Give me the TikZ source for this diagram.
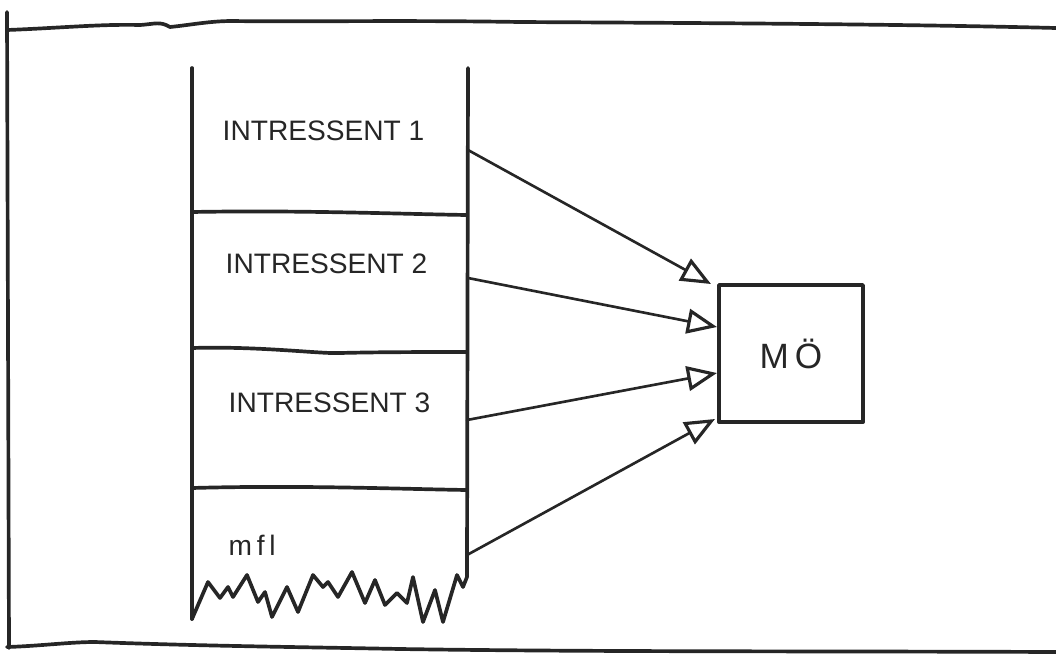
\documentclass[tikz,border=0pt]{standalone}
\usepackage{fontspec}
\setmainfont{Liberation Sans}
\usetikzlibrary{arrows.meta}
\tikzset{
  ink/.style={line width=1.05pt, line join=round, line cap=round, draw=black!85},
  thinink/.style={line width=0.75pt, line join=round, line cap=round, draw=black!85},
  lbl/.style={anchor=west, inner sep=0pt, font=\fontsize{8}{9.6}\selectfont, text=black!85},
  arr/.style={thinink, -{Triangle[open, length=8.5pt, width=7pt, line width=0.9pt]}},
  mobox/.style={ink, minimum width=1.44cm, minimum height=1.37cm, inner sep=0pt,
    font=\fontsize{10}{12}\selectfont, text=black!85}
}
\begin{document}
\begin{tikzpicture}[x=0.01cm, y=-0.01cm]
\useasboundingbox (0,0) rectangle (1056,654);
% outer frame
\draw[ink] (7,12) -- (9,648);
\draw[ink] (7,30) .. controls (60,28) and (100,24) .. (140,25)
  .. controls (155,24) and (160,21) .. (170,27)
  .. controls (190,25) and (210,21) .. (232,21)
  .. controls (300,22) and (400,20) .. (520,22)
  .. controls (700,23) and (900,24) .. (1056,28);
\draw[ink] (7,647) .. controls (40,646) and (70,642) .. (95,642)
  .. controls (200,646) and (300,647) .. (400,649)
  .. controls (600,652) and (800,651) .. (1056,652);
% column
\draw[ink] (192,68) -- (192,619);
\draw[ink] (468,68) -- (467,577);
\draw[ink] (192,212) .. controls (300,210) and (400,214) .. (467,215);
\draw[ink] (192,348) .. controls (260,346) and (320,354) .. (340,353) .. controls (380,352) and (430,352) .. (467,352);
\draw[ink] (192,488) .. controls (300,485) and (400,489) .. (467,490);
% torn bottom
\draw[ink] (192,619) -- (208,582) -- (220,598) -- (228,587) -- (233,597) -- (247,575)
  -- (258,602) -- (265,592) -- (272,617) -- (287,587) -- (298,612) -- (313,575)
  -- (323,587) -- (328,582) -- (338,597) -- (352,572) -- (365,603) -- (375,580)
  -- (385,605) -- (397,593) -- (407,603) -- (413,577) -- (423,622) -- (435,590)
  -- (443,622) -- (457,575) -- (463,587) -- (467,577);
% labels
\node[lbl] (i1) at (222,131) {INTRESSENT 1};
\node[lbl] (i2) at (225,264) {INTRESSENT 2};
\node[lbl] (i3) at (228,403) {INTRESSENT 3};
\node[lbl] (mfl) at (228,545) {m\,f\,l};
% MÖ box
\node[mobox, draw] (mo) at (791,353.5) {M\,Ö};
% arrow endpoints
\coordinate (s1) at (468,150);
\coordinate (s2) at (468,278);
\coordinate (s3) at (467,420);
\coordinate (s4) at (467,555);
\coordinate (e1) at (711,284);
\coordinate (e2) at (717,327);
\coordinate (e3) at (717,373);
\coordinate (e4) at (715,419);
\draw[arr] (s1) -- (e1);
\draw[arr] (s2) -- (e2);
\draw[arr] (s3) -- (e3);
\draw[arr] (s4) -- (e4);
\end{tikzpicture}
\end{document}
